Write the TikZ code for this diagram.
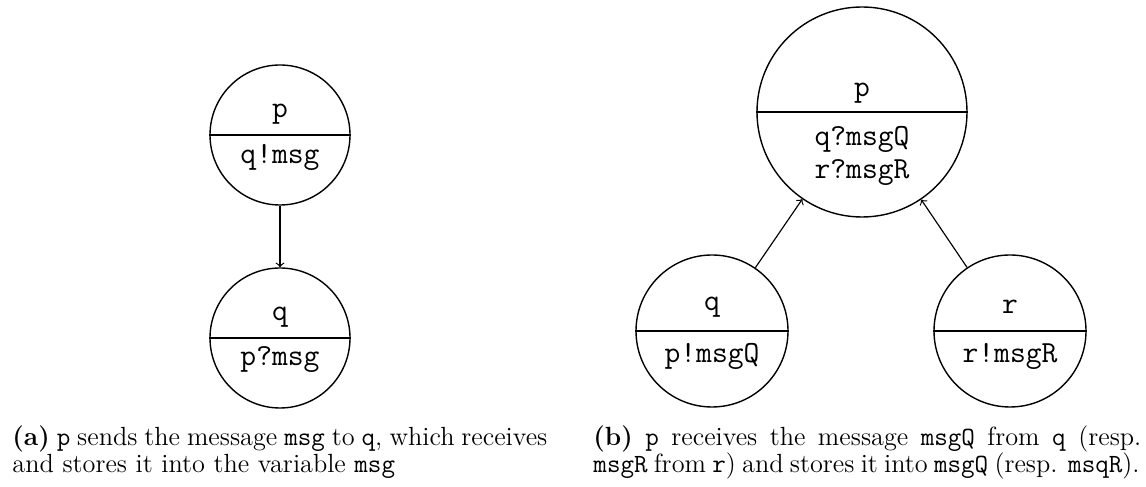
\documentclass[tikz,border=0pt]{standalone}
\usepackage{tikz}
\tikzset{
  proc/.style={draw, circle, line width=0.6pt, inner sep=0pt},
  lbl/.style={inner sep=0pt, font=\fontsize{13.2}{15}\selectfont\ttfamily},
  captext/.style={inner sep=0pt, anchor=base west, font=\fontsize{11.3}{13.5}\selectfont},
  msgarrow/.style={->, line width=0.5pt},
  divider/.style={line width=0.6pt}
}
\begin{document}
\begin{tikzpicture}[x=0.43pt, y=-0.43pt]
\useasboundingbox (0,0) rectangle (1146,487);
% ---------- (a) ----------
\node[proc, minimum size=140*0.43pt] (ap) at (280,135) {};
\draw[divider] (ap.west) -- (ap.east);
\node[lbl] (apname) at (280,114) {p};
\node[lbl] (apact) at (280,157) {q!msg};
\node[proc, minimum size=140*0.43pt] (aq) at (280,338) {};
\draw[divider] (aq.west) -- (aq.east);
\node[lbl] (aqname) at (280,317) {q};
\node[lbl] (aqact) at (280,360) {p?msg};
\draw[msgarrow] (ap) -- (aq);
% ---------- (b) ----------
\node[proc, minimum size=210*0.43pt] (bp) at (862,112) {};
\draw[divider] (bp.west) -- (bp.east);
\node[lbl] (bpname) at (862,93) {p};
\node[lbl] (bpact1) at (862,139) {q?msgQ};
\node[lbl] (bpact2) at (862,173) {r?msgR};
\node[proc, minimum size=152*0.43pt] (bq) at (712,331) {};
\draw[divider] (bq.west) -- (bq.east);
\node[lbl] (bqname) at (712,307) {q};
\node[lbl] (bqact) at (712,356) {p!msgQ};
\node[proc, minimum size=152*0.43pt] (br) at (1010,331) {};
\draw[divider] (br.west) -- (br.east);
\node[lbl] (brname) at (1010,307) {r};
\node[lbl] (bract) at (1010,356) {r!msgR};
\draw[msgarrow] (bq) -- (bp);
\draw[msgarrow] (br) -- (bp);
% ---------- captions ----------
\node[captext] (capa1) at (12,446) {\makebox[230pt][s]{\textbf{(a)} \texttt{p} sends the message \texttt{msg} to \texttt{q}, which receives}};
\node[captext] (capa2) at (12,473) {and stores it into the variable \texttt{msg}};
\node[captext] (capb1) at (593,446) {\makebox[235.6pt][s]{\textbf{(b)} \texttt{p} receives the message \texttt{msgQ} from \texttt{q} (resp.}};
\node[captext] (capb2) at (593,473) {\makebox[234.8pt][s]{\texttt{msgR} from \texttt{r}) and stores it into \texttt{msgQ} (resp. \texttt{msqR}).}};
\end{tikzpicture}
\end{document}
